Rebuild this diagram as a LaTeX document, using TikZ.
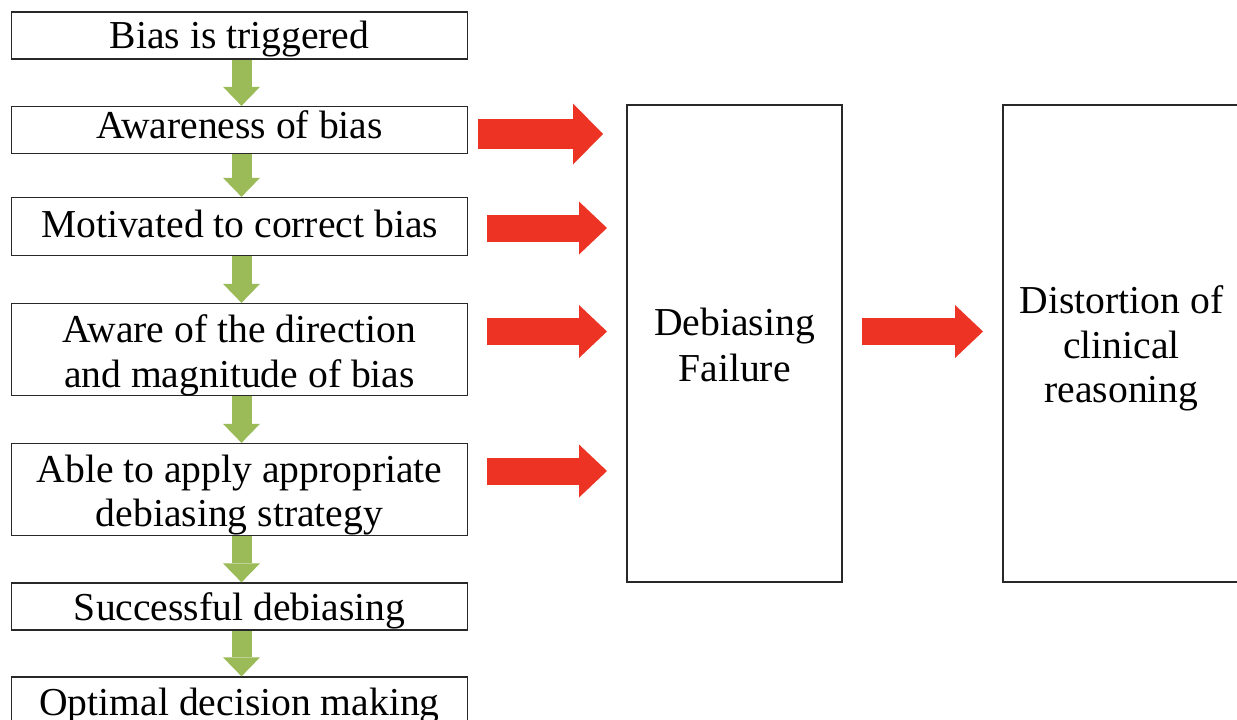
\documentclass[tikz,border=0pt]{standalone}
\usepackage{fontspec}
\setmainfont{Liberation Serif}
\usetikzlibrary{arrows.meta}
\definecolor{arrred}{RGB}{236,51,36}
\definecolor{arrgreen}{RGB}{155,187,89}
\definecolor{boxline}{RGB}{40,40,40}
\begin{document}
\begin{tikzpicture}[x=1pt,y=-1pt,
  box/.style={draw=boxline, line width=1.3pt, inner sep=0pt},
  stepbox/.style={box, minimum width=456pt},
  txt/.style={inner sep=0pt, anchor=base, font=\fontsize{39.6}{46}\selectfont},
  greenarr/.style={draw=arrgreen, line width=20pt,
    -{Triangle[width=37pt,length=19pt,line width=0pt,fill=arrgreen]}},
  redbig/.style={draw=arrred, line width=30pt,
    -{Triangle[width=61pt,length=30pt,line width=0pt,fill=arrred]}},
  redarr/.style={draw=arrred, line width=27pt,
    -{Triangle[width=53pt,length=28pt,line width=0pt,fill=arrred]}}
]
\useasboundingbox (0,0) rectangle (1237,720);
\fill[white] (0,0) rectangle (1237,720);

% left column boxes
\node[stepbox, minimum height=47pt] (b1) at (239.5,35.5) {};
\node[stepbox, minimum height=47pt] (b2) at (239.5,130) {};
\node[stepbox, minimum height=58pt] (b3) at (239.5,226.5) {};
\node[stepbox, minimum height=92pt] (b4) at (239.5,349.5) {};
\node[stepbox, minimum height=92pt] (b5) at (239.5,489.5) {};
\node[stepbox, minimum height=47pt] (b6) at (239.5,606.5) {};
\node[stepbox, minimum height=47pt] (b7) at (239.5,700.5) {};

% left column texts
\node[txt] (t1) at (239.5,48.3) {Bias is triggered};
\node[txt] (t2) at (239.5,138) {Awareness of bias};
\node[txt] (t3) at (239.5,237) {Motivated to correct bias};
\node[txt] (t4a) at (239.5,342) {Aware of the direction};
\node[txt] (t4b) at (239.5,387) {and magnitude of bias};
\node[txt] (t5a) at (239.5,482) {Able to apply appropriate};
\node[txt] (t5b) at (239.5,526) {debiasing strategy};
\node[txt] (t6) at (239.5,620) {Successful debiasing};
\node[txt] (t7) at (239.5,715) {Optimal decision making};

% right boxes
\node[box, minimum width=215pt, minimum height=477pt] (fail) at (734.5,343.5) {};
\node[box, minimum width=239pt, minimum height=477pt] (dist) at (1122.5,343.5) {};
\node[txt] (f1) at (734.5,335) {Debiasing};
\node[txt] (f2) at (734.5,381) {Failure};
\node[txt] (d1) at (1121.5,313) {Distortion of};
\node[txt] (d2) at (1121.5,358) {clinical};
\node[txt] (d3) at (1121.5,402) {reasoning};

% green arrows
\draw[greenarr] ([xshift=2pt]b1.south) -- ([xshift=2pt]b2.north);
\draw[greenarr] ([xshift=2pt]b2.south) -- ([xshift=2pt]b3.north);
\draw[greenarr] ([xshift=2pt]b3.south) -- ([xshift=2pt]b4.north);
\draw[greenarr] ([xshift=2pt]b4.south) -- ([xshift=2pt]b5.north);
\draw[greenarr] ([xshift=2pt]b5.south) -- ([xshift=2pt]b6.north);
\draw[greenarr] ([xshift=2pt]b6.south) -- ([xshift=2pt]b7.north);

% red arrows
\coordinate (r1s) at (478,134);   \coordinate (r1e) at (603,134);
\coordinate (r2s) at (487,228);   \coordinate (r2e) at (607,228);
\coordinate (r3s) at (487,331.5); \coordinate (r3e) at (607,331.5);
\coordinate (r4s) at (487,471);   \coordinate (r4e) at (607,471);
\coordinate (r5s) at (862,331.5); \coordinate (r5e) at (983,331.5);
\draw[redbig] (r1s) -- (r1e);
\draw[redarr] (r2s) -- (r2e);
\draw[redarr] (r3s) -- (r3e);
\draw[redarr] (r4s) -- (r4e);
\draw[redarr] (r5s) -- (r5e);
\end{tikzpicture}
\end{document}
